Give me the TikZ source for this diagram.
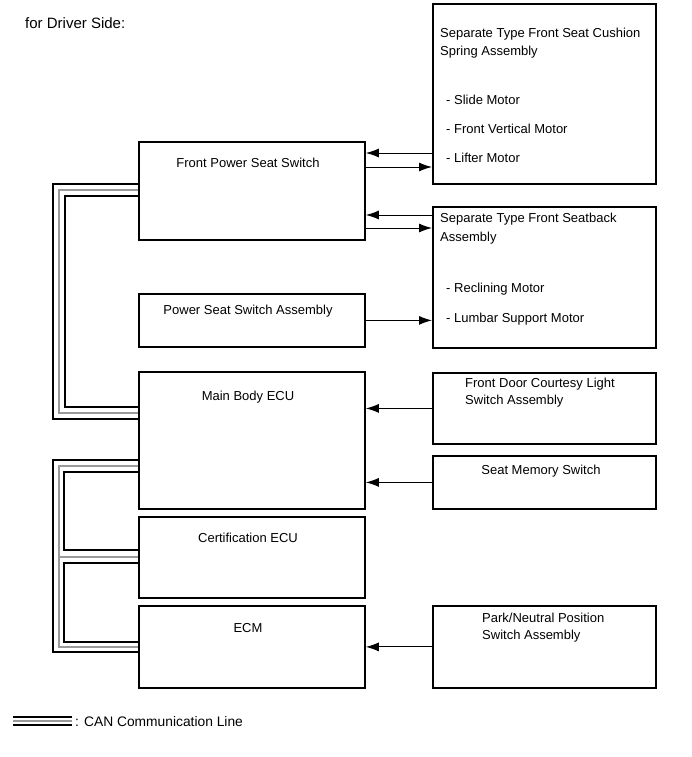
\documentclass[tikz,border=0pt]{standalone}
\usepackage{fontspec}
\setmainfont{Liberation Sans}
\usetikzlibrary{arrows.meta,positioning,calc}
\definecolor{CanGray}{HTML}{9A9A9A}

\begin{document}
\begin{tikzpicture}[
  x=1pt, y=-1pt,
  every node/.style={font=\fontsize{13}{17.5}\selectfont, inner sep=0pt},
  blk/.style={rectangle, draw=black, line width=1.8pt, anchor=north west},
  lbl/.style={anchor=base},
  lbll/.style={anchor=base west},
  arr/.style={-{Latex[length=13pt,width=9pt]}, line width=1pt},
  canO/.style={draw=black, line width=2.3pt},
  canG/.style={draw=CanGray, line width=2pt},
  canI/.style={draw=black, line width=2.6pt},
]
\useasboundingbox (0,0) rectangle (691,757);
\node[lbll, font=\fontsize{15}{18}\selectfont] (title) at (25,29) {for Driver Side:};
% left column boxes
\node[blk, minimum width=226pt, minimum height=98pt]  (fpss)  at (138,141) {};
\node[blk, minimum width=226pt, minimum height=53pt]  (pssa)  at (138,293) {};
\node[blk, minimum width=226pt, minimum height=137pt] (mbecu) at (138,371) {};
\node[blk, minimum width=226pt, minimum height=81pt]  (cert)  at (138,516) {};
\node[blk, minimum width=226pt, minimum height=82pt]  (ecm)   at (138,605) {};
% right column boxes
\node[blk, minimum width=223pt, minimum height=180pt] (cush)  at (432,3) {};
\node[blk, minimum width=223pt, minimum height=141pt] (sback) at (432,206) {};
\node[blk, minimum width=223pt, minimum height=71pt]  (court) at (432,372) {};
\node[blk, minimum width=223pt, minimum height=53pt]  (memsw) at (432,455) {};
\node[blk, minimum width=223pt, minimum height=82pt]  (park)  at (432,605) {};
% texts
\node[lbl] (tfpss)  at (248,167) {Front Power Seat Switch};
\node[lbl] (tpssa)  at (248,314) {Power Seat Switch Assembly};
\node[lbl] (tmbecu) at (248,400) {Main Body ECU};
\node[lbl] (tcert)  at (248,542) {Certification ECU};
\node[lbl] (tecm)   at (248,632) {ECM};
\node[lbll] (tcush1) at (440,38) {Separate Type Front Seat Cushion};
\node[lbll] (tcush2) at (440,56) {Spring Assembly};
\node[lbll] (tslide) at (446,105) {- Slide Motor};
\node[lbll] (tfvm)   at (446,134) {- Front Vertical Motor};
\node[lbll] (tlift)  at (446,162) {- Lifter Motor};
\node[lbll] (tsb1)   at (440,222) {Separate Type Front Seatback};
\node[lbll] (tsb2)   at (440,241) {Assembly};
\node[lbll] (trecl)  at (446,292) {- Reclining Motor};
\node[lbll] (tlumb)  at (446,322) {- Lumbar Support Motor};
\node[lbll] (tcrt1)  at (465,387) {Front Door Courtesy Light};
\node[lbll] (tcrt2)  at (465,404) {Switch Assembly};
\node[lbl]  (tmem)   at (541,474) {Seat Memory Switch};
\node[lbll] (tpark1) at (482,622) {Park/Neutral Position};
\node[lbll] (tpark2) at (482,639) {Switch Assembly};
% CAN: front power seat switch -- main body ECU
\draw[canO] ([yshift=-43pt]fpss.north west) -- ++(-85pt,0) |- ([yshift=-48pt]mbecu.north west);
\draw[canG] ([yshift=-49pt]fpss.north west) -- ++(-79pt,0) |- ([yshift=-42pt]mbecu.north west);
\draw[canI] ([yshift=-55pt]fpss.north west) -- ++(-73pt,0) |- ([yshift=-36pt]mbecu.north west);
% CAN: main body ECU -- certification ECU -- ECM
\draw[canO] ([yshift=-89pt]mbecu.north west) -- ++(-85pt,0) |- ([yshift=-47pt]ecm.north west);
\draw[canG] ([yshift=-95pt]mbecu.north west) -- ++(-79pt,0) |- ([yshift=-42pt]ecm.north west);
\draw[canG] ([yshift=-41pt]cert.north west) -- ++(-79pt,0);
\draw[canI] ([yshift=-101pt]mbecu.north west) -- ++(-74pt,0) |- ([yshift=-34pt]cert.north west);
\draw[canI] ([yshift=-47pt]cert.north west) -- ++(-74pt,0) |- ([yshift=-37pt]ecm.north west);
% signal arrows
\draw[arr] ([yshift=-12pt]cush.west |- fpss.north east) -- ([yshift=-12pt]fpss.north east);
\draw[arr] ([yshift=-26pt]fpss.north east) -- ([yshift=-26pt]cush.west |- fpss.north east);
\draw[arr] ([yshift=-9pt]sback.north west) -- ([yshift=-9pt]fpss.east |- sback.north west);
\draw[arr] ([yshift=-22pt]fpss.east |- sback.north west) -- ([yshift=-22pt]sback.north west);
\draw[arr] (pssa.east) -- (sback.west |- pssa.east);
\draw[arr] (court.west) -- (mbecu.east |- court.west);
\draw[arr] (memsw.west) -- (mbecu.east |- memsw.west);
\draw[arr] (park.west) -- (ecm.east |- park.west);
% legend
\coordinate (lgA) at (13,717);
\coordinate (lgB) at (72,717);
\draw[canO] (lgA) -- (lgB);
\draw[canG] ([yshift=-4pt]lgA) -- ([yshift=-4pt]lgB);
\draw[canI] ([yshift=-8pt]lgA) -- ([yshift=-8pt]lgB);
\node[lbll, font=\fontsize{13.8}{16}\selectfont] (tlg) at (75,726) {: CAN Communication Line};
\end{tikzpicture}
\end{document}
